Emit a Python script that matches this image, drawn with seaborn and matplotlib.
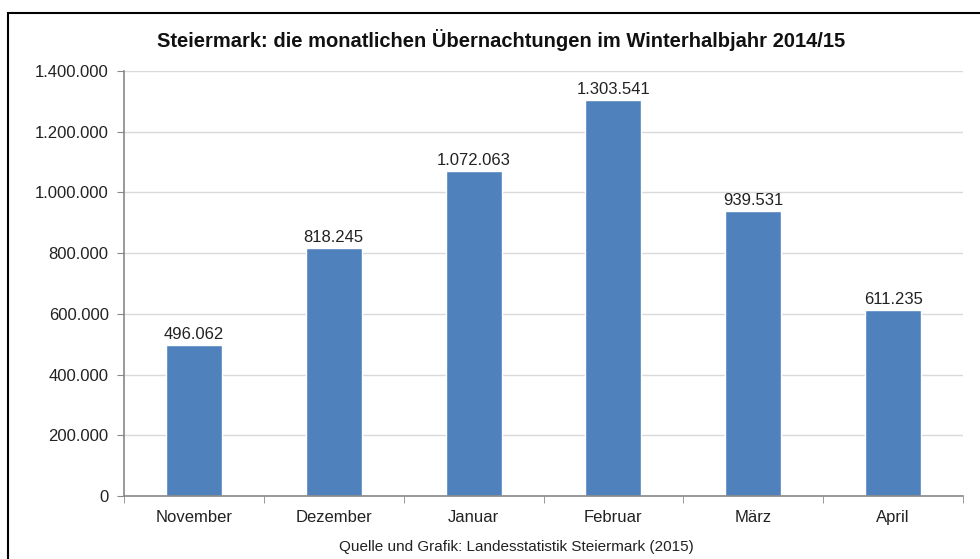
import matplotlib
matplotlib.use("Agg")
import matplotlib.pyplot as plt
import seaborn as sns
import pandas as pd
from matplotlib.patches import Rectangle
from matplotlib.ticker import FuncFormatter, FixedLocator

# Daten
monate = ['November', 'Dezember', 'Januar', 'Februar', 'März', 'April']
uebernachtungen = [496062, 818245, 1072063, 1303541, 939531, 611235]

def de_format(v):
    return f"{int(round(v)):,}".replace(",", ".")

df = pd.DataFrame({'Monat': monate, 'Übernachtungen': uebernachtungen})

sns.set_style("white")
plt.rcParams['font.family'] = ['Liberation Sans', 'DejaVu Sans']

fig = plt.figure(figsize=(9.8, 5.59), dpi=100)
ax = fig.add_axes([0.1265, 0.1127, 0.8562, 0.7603])

sns.barplot(data=df, x='Monat', y='Übernachtungen', color='#4F81BD',
            saturation=1, width=0.4, ax=ax)

ax.set_ylim(0, 1400000)
ax.set_xlim(-0.5, len(monate) - 0.5)
ax.set_yticks(range(0, 1400001, 200000))
ax.yaxis.set_major_formatter(FuncFormatter(lambda v, p: de_format(v)))
ax.yaxis.grid(True, color='#d9d9d9', linewidth=1)
ax.set_axisbelow(True)

# Beschriftungen über den Balken
for i, v in enumerate(uebernachtungen):
    ax.text(i, v + 10000, de_format(v), ha='center', va='bottom',
            fontsize=12, color='#222222')

ax.set_xlabel('')
ax.set_ylabel('')
ax.tick_params(axis='y', length=5, color='#888888', labelsize=12,
               labelcolor='#222222', pad=6, direction='out', left=True)
ax.tick_params(axis='x', which='major', length=0, labelsize=12,
               labelcolor='#222222', pad=10)
ax.xaxis.set_minor_locator(FixedLocator([i - 0.5 for i in range(len(monate) + 1)]))
ax.tick_params(axis='x', which='minor', length=5, color='#888888',
               direction='out', bottom=True)

for s in ['top', 'right']:
    ax.spines[s].set_visible(False)
for s in ['left', 'bottom']:
    ax.spines[s].set_color('#888888')
    ax.spines[s].set_linewidth(1.2)

fig.text(0.511, 0.928, 'Steiermark: die monatlichen Übernachtungen im Winterhalbjahr 2014/15',
         ha='center', va='center', fontsize=14.5, fontweight='bold', color='#111111')
fig.text(0.527, 0.021, 'Quelle und Grafik: Landesstatistik Steiermark (2015)',
         ha='center', va='center', fontsize=11, color='#222222')

# Rahmen
fig.patches.append(Rectangle((8 / 980, -0.1), 1.1, 1 - 13 / 559 + 0.1,
                             transform=fig.transFigure, fill=False,
                             edgecolor='black', linewidth=1.5))

fig.savefig('out.png', dpi=100)
